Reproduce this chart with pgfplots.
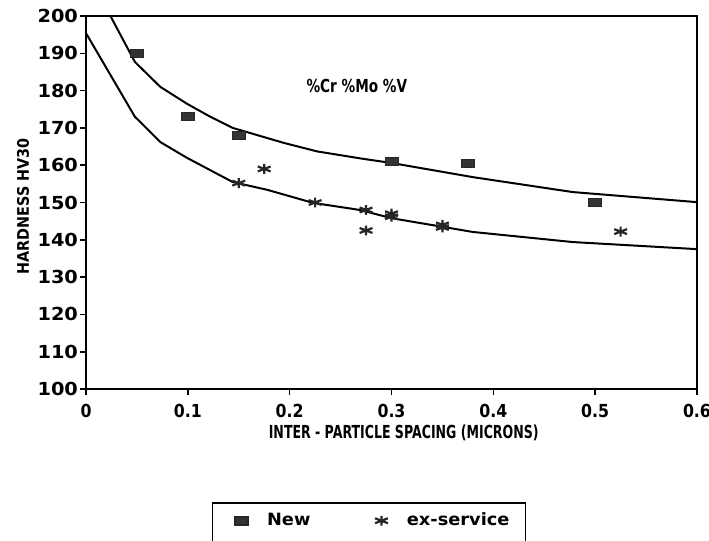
\documentclass[border=0pt]{standalone}
\usepackage{fontspec}
\setmainfont{DejaVu Sans}
\newfontfamily\tickfont[FakeStretch=1.08]{DejaVu Sans}
\newfontfamily\xtickfont[FakeStretch=0.88]{DejaVu Sans}
\newfontfamily\xlabfont[FakeStretch=0.7]{DejaVu Sans}
\newfontfamily\ylabfont[FakeStretch=0.9]{DejaVu Sans}
\newfontfamily\notefont[FakeStretch=0.76]{DejaVu Sans}
\newfontfamily\legfont[FakeStretch=1.05]{DejaVu Sans}
\usepackage{pgfplots}
\pgfplotsset{compat=1.18}
\begin{document}
\begin{tikzpicture}[x=1bp,y=1bp]
\path[use as bounding box] (0,0) rectangle (354.5,-270.5);
\begin{axis}[
  at={(43bp,-194.5bp)}, anchor=south west,
  scale only axis, width=305.5bp, height=186.5bp,
  xmin=0, xmax=0.6, ymin=100, ymax=200,
  xtick={0,0.1,...,0.6}, ytick={100,110,...,200},
  xticklabels={0,0.1,0.2,0.3,0.4,0.5,0.6},
  yticklabels={100,110,120,130,140,150,160,170,180,190,200},
  tick align=outside, major tick length=3bp,
  xtick pos=bottom, ytick pos=left,
  axis line style={line width=1bp},
  tick style={line width=0.8bp, black},
  /pgf/number format/assume math mode=true,
  yticklabel style={font=\tickfont\fontsize{9}{10}\selectfont\bfseries, xshift=2.5bp},
  xticklabel style={font=\xtickfont\fontsize{9}{10}\selectfont\bfseries, yshift=-1bp},
  xlabel={INTER - PARTICLE SPACING (MICRONS)},
  ylabel={HARDNESS HV30},
  xlabel style={font=\xlabfont\fontsize{9}{10}\selectfont\bfseries,
    at={(axis description cs:0.52,0)}, anchor=center, yshift=-22bp},
  ylabel style={font=\ylabfont\fontsize{8}{9}\selectfont\bfseries,
    at={(axis description cs:-0.103,0.49)}, anchor=center, rotate=0},
  clip=true,
  legend columns=2,
  legend style={at={(0.206,-0.303)}, anchor=north west, draw=black, line width=0.8bp,
    font=\legfont\fontsize{8.5}{10}\selectfont\bfseries, inner xsep=6bp, inner ysep=3bp,
    /tikz/every odd column/.append style={column sep=7.5bp},
    /tikz/every even column/.append style={column sep=25bp}},
  legend cell align=left,
]
\addplot[black, line width=1bp, forget plot] coordinates {
(0.024,200) (0.048,187.7) (0.073,181) (0.099,176.5) (0.122,173) (0.144,170) (0.194,166) (0.227,163.7) (0.27,161.8) (0.3,160.6) (0.38,156.8) (0.478,152.8) (0.6,150.1)};
\addplot[black, line width=1bp, forget plot] coordinates {
(0,195.4) (0.048,173) (0.073,166.2) (0.099,162) (0.144,155.5) (0.178,153.4) (0.223,149.9) (0.269,148) (0.3,145.8) (0.38,142.1) (0.478,139.4) (0.6,137.5)};
\addplot[only marks, mark=square*, mark size=2.8bp, mark options={fill=black!80, draw=black!85, xscale=1.15, yscale=0.72}] coordinates {
(0.05,190) (0.1,173) (0.15,168) (0.3,161) (0.375,160.5) (0.5,150)};
\addlegendentry{New}
\addplot[only marks, mark=asterisk, mark size=3.7bp, mark options={line width=1.1bp, black!85, yscale=0.67}] coordinates {
(0.15,155.2) (0.175,159) (0.225,150) (0.275,148) (0.275,142.5) (0.3,147) (0.3,146.2) (0.35,144) (0.35,143.3) (0.525,142.2)};
\addlegendentry{ex-service}
\addlegendimage{empty legend}\addlegendentry{}
\addlegendimage{empty legend}\addlegendentry{}
\node[font=\notefont\fontsize{9}{10}\selectfont\bfseries] at (axis cs:0.266,181.2) {\%Cr \%Mo \%V};
\end{axis}
\end{tikzpicture}
\end{document}
